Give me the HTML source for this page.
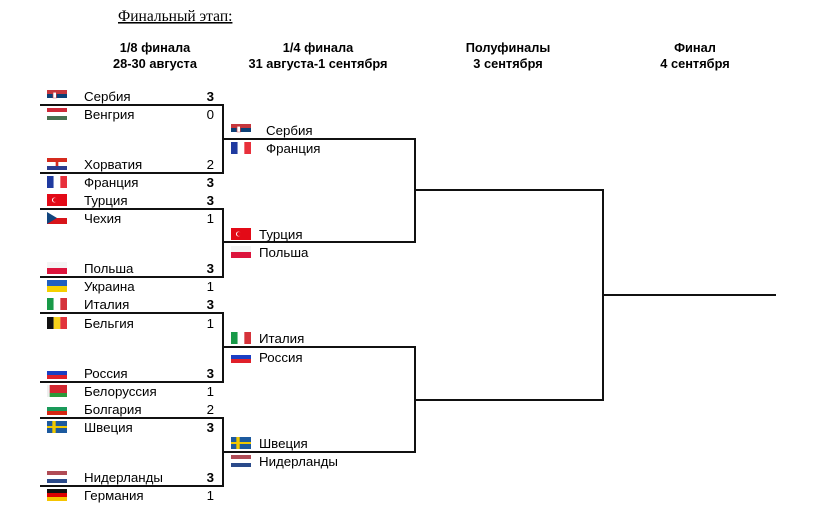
<!DOCTYPE html>
<html><head><meta charset="utf-8"><style>
html,body{margin:0;padding:0;background:#fff;}
svg{display:block;font-family:"Liberation Sans",Arial,sans-serif;font-size:13.3px;}
.b{font-weight:bold}
</style></head><body>
<svg width="819" height="516" viewBox="0 0 819 516" xmlns="http://www.w3.org/2000/svg">
<defs>
<symbol id="rs" viewBox="0 0 3 3" preserveAspectRatio="none"><rect width="3" height="1" fill="#c6363c"/><rect y="1" width="3" height="1" fill="#0c4076"/><rect y="2" width="3" height="1" fill="#fff"/><rect x="0.9" y="0.6" width="0.5" height="1.4" fill="#fff" stroke="#c6363c" stroke-width="0.1"/></symbol>
<symbol id="hu" viewBox="0 0 3 3" preserveAspectRatio="none"><rect width="3" height="1" fill="#ce2939"/><rect y="1" width="3" height="1" fill="#fff"/><rect y="2" width="3" height="1" fill="#477050"/></symbol>
<symbol id="hr" viewBox="0 0 3 3" preserveAspectRatio="none"><rect width="3" height="1" fill="#d52b1e"/><rect y="1" width="3" height="1" fill="#fff"/><rect y="2" width="3" height="1" fill="#2b3d8f"/><rect x="1.3" y="0.8" width="0.4" height="1.2" fill="#d52b1e"/></symbol>
<symbol id="fr" viewBox="0 0 3 3" preserveAspectRatio="none"><rect width="1" height="3" fill="#1f3aa0"/><rect x="1" width="1" height="3" fill="#fff"/><rect x="2" width="1" height="3" fill="#e8303b"/></symbol>
<symbol id="tr" viewBox="0 0 3 3" preserveAspectRatio="none"><rect width="3" height="3" fill="#e30a17"/><ellipse cx="1.1" cy="1.5" rx="0.35" ry="0.6" fill="#fff"/><ellipse cx="1.2" cy="1.5" rx="0.3" ry="0.5" fill="#e30a17"/></symbol>
<symbol id="cz" viewBox="0 0 3 3" preserveAspectRatio="none"><rect width="3" height="1.5" fill="#fff"/><rect y="1.5" width="3" height="1.5" fill="#d7141a"/><path d="M0 0L1.5 1.5L0 3Z" fill="#11457e"/></symbol>
<symbol id="pl" viewBox="0 0 3 3" preserveAspectRatio="none"><rect width="3" height="1.5" fill="#f4f4f4"/><rect y="1.5" width="3" height="1.5" fill="#dc143c"/></symbol>
<symbol id="ua" viewBox="0 0 3 3" preserveAspectRatio="none"><rect width="3" height="1.5" fill="#1f5fbf"/><rect y="1.5" width="3" height="1.5" fill="#f5d000"/></symbol>
<symbol id="it" viewBox="0 0 3 3" preserveAspectRatio="none"><rect width="1" height="3" fill="#189a48"/><rect x="1" width="1" height="3" fill="#fff"/><rect x="2" width="1" height="3" fill="#d5323a"/></symbol>
<symbol id="be" viewBox="0 0 3 3" preserveAspectRatio="none"><rect width="1" height="3" fill="#111"/><rect x="1" width="1" height="3" fill="#f6d21a"/><rect x="2" width="1" height="3" fill="#e2333b"/></symbol>
<symbol id="ru" viewBox="0 0 3 3" preserveAspectRatio="none"><rect width="3" height="1" fill="#fff"/><rect y="1" width="3" height="1" fill="#1a3fc4"/><rect y="2" width="3" height="1" fill="#e0202a"/></symbol>
<symbol id="by" viewBox="0 0 3 3" preserveAspectRatio="none"><rect width="3" height="2" fill="#d22730"/><rect y="2" width="3" height="1" fill="#2c9a3a"/><rect width="0.4" height="3" fill="#eee"/></symbol>
<symbol id="bg" viewBox="0 0 3 3" preserveAspectRatio="none"><rect width="3" height="1" fill="#fff"/><rect y="1" width="3" height="1" fill="#1a9a5a"/><rect y="2" width="3" height="1" fill="#d62612"/></symbol>
<symbol id="se" viewBox="0 0 3 3" preserveAspectRatio="none"><rect width="3" height="3" fill="#1d5a9e"/><rect x="0.8" width="0.5" height="3" fill="#f0c800"/><rect y="1.25" width="3" height="0.5" fill="#f0c800"/></symbol>
<symbol id="nl" viewBox="0 0 3 3" preserveAspectRatio="none"><rect width="3" height="1" fill="#b04b55"/><rect y="1" width="3" height="1" fill="#fff"/><rect y="2" width="3" height="1" fill="#2a4a8a"/></symbol>
<symbol id="de" viewBox="0 0 3 3" preserveAspectRatio="none"><rect width="3" height="1" fill="#111"/><rect y="1" width="3" height="1" fill="#dd0000"/><rect y="2" width="3" height="1" fill="#f5c400"/></symbol>
</defs>

<text x="118" y="21" font-family="Liberation Serif,serif" font-size="15.5" text-decoration="underline">Финальный этап:</text>

<g class="b" text-anchor="middle" font-size="12.8">
<text x="155" y="52">1/8 финала</text><text x="155" y="68">28-30 августа</text>
<text x="318" y="52">1/4 финала</text><text x="318" y="68">31 августа-1 сентября</text>
<text x="508" y="52">Полуфиналы</text><text x="508" y="68">3 сентября</text>
<text x="695" y="52">Финал</text><text x="695" y="68">4 сентября</text>
</g>

<g stroke="#111" stroke-width="2" fill="none">
<path d="M40 105H223V173H40"/>
<path d="M40 209H223V277H40"/>
<path d="M40 313H223V382H40"/>
<path d="M40 418H223V486H40"/>
<path d="M223 139H415V242H223"/>
<path d="M223 347H415V452H223"/>
<path d="M415 190H603V400H415"/>
<path d="M603 295H776"/>
</g>

<g>
<use href="#rs" x="47" y="90" width="20" height="12"/>
<use href="#hu" x="47" y="108" width="20" height="12"/>
<use href="#hr" x="47" y="158" width="20" height="12"/>
<use href="#fr" x="47" y="176" width="20" height="12"/>
<use href="#tr" x="47" y="194" width="20" height="12"/>
<use href="#cz" x="47" y="212" width="20" height="12"/>
<use href="#pl" x="47" y="262" width="20" height="12"/>
<use href="#ua" x="47" y="280" width="20" height="12"/>
<use href="#it" x="47" y="298" width="20" height="12"/>
<use href="#be" x="47" y="317" width="20" height="12"/>
<use href="#ru" x="47" y="367" width="20" height="12"/>
<use href="#by" x="47" y="385" width="20" height="12"/>
<use href="#bg" x="47" y="403" width="20" height="12"/>
<use href="#se" x="47" y="421" width="20" height="12"/>
<use href="#nl" x="47" y="471" width="20" height="12"/>
<use href="#de" x="47" y="489" width="20" height="12"/>

<use href="#rs" x="231" y="124" width="20" height="12"/>
<use href="#fr" x="231" y="142" width="20" height="12"/>
<use href="#tr" x="231" y="228" width="20" height="12"/>
<use href="#pl" x="231" y="246" width="20" height="12"/>
<use href="#it" x="231" y="332" width="20" height="12"/>
<use href="#ru" x="231" y="351" width="20" height="12"/>
<use href="#se" x="231" y="437" width="20" height="12"/>
<use href="#nl" x="231" y="455" width="20" height="12"/>
</g>

<g>
<text x="84" y="101">Сербия</text><text x="84" y="119">Венгрия</text>
<text x="84" y="169">Хорватия</text><text x="84" y="187">Франция</text>
<text x="84" y="205">Турция</text><text x="84" y="223">Чехия</text>
<text x="84" y="273">Польша</text><text x="84" y="291">Украина</text>
<text x="84" y="309">Италия</text><text x="84" y="328">Бельгия</text>
<text x="84" y="378">Россия</text><text x="84" y="396">Белоруссия</text>
<text x="84" y="414">Болгария</text><text x="84" y="432">Швеция</text>
<text x="84" y="482">Нидерланды</text><text x="84" y="500">Германия</text>
</g>
<g text-anchor="end">
<text x="214" y="101" class="b">3</text><text x="214" y="119">0</text>
<text x="214" y="169">2</text><text x="214" y="187" class="b">3</text>
<text x="214" y="205" class="b">3</text><text x="214" y="223">1</text>
<text x="214" y="273" class="b">3</text><text x="214" y="291">1</text>
<text x="214" y="309" class="b">3</text><text x="214" y="328">1</text>
<text x="214" y="378" class="b">3</text><text x="214" y="396">1</text>
<text x="214" y="414">2</text><text x="214" y="432" class="b">3</text>
<text x="214" y="482" class="b">3</text><text x="214" y="500">1</text>
</g>
<g>
<text x="266" y="135">Сербия</text><text x="266" y="153">Франция</text>
<text x="259" y="239">Турция</text><text x="259" y="257">Польша</text>
<text x="259" y="343">Италия</text><text x="259" y="362">Россия</text>
<text x="259" y="448">Швеция</text><text x="259" y="466">Нидерланды</text>
</g>
</svg>
</body></html>
